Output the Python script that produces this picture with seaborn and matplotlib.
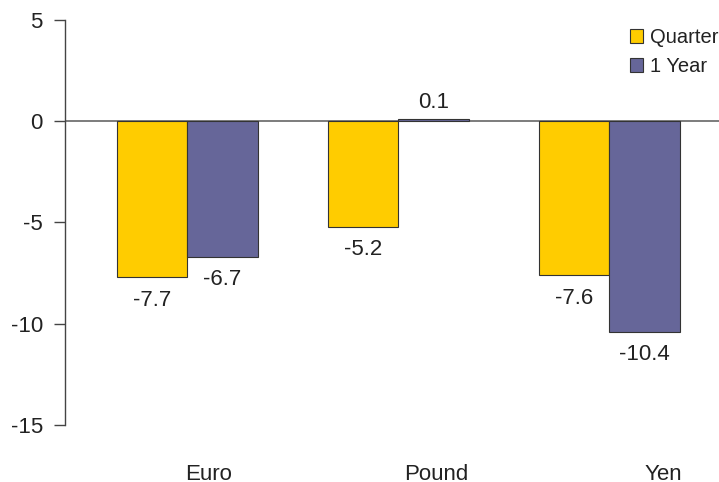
import matplotlib
matplotlib.use("Agg")
import matplotlib.pyplot as plt
import matplotlib.transforms as mtransforms
from matplotlib.container import BarContainer
import seaborn as sns
import pandas as pd

categories = ["Euro", "Pound", "Yen"]
series_names = ["Quarter", "1 Year"]
quarter = [-7.7, -5.2, -7.6]
one_year = [-6.7, 0.1, -10.4]
y_ticks = [5, 0, -5, -10, -15]
colors = ["#FFCC00", "#666699"]

df = pd.DataFrame({
    "Currency": categories * 2,
    "Series": [series_names[0]] * 3 + [series_names[1]] * 3,
    "Value": quarter + one_year,
})

sns.set_style("white")
plt.rcParams["font.family"] = ["Liberation Sans", "DejaVu Sans"]

fig = plt.figure(figsize=(7.19, 4.82), dpi=100)
ax = fig.add_axes([0.0904, 0.1183, 0.9096, 0.8402])

sns.barplot(data=df, x="Currency", y="Value", hue="Series", order=categories,
            hue_order=series_names, palette=colors, width=0.667, dodge=True,
            edgecolor="#333333", linewidth=0.8, saturation=1, ax=ax, errorbar=None)

ax.axhline(0, color="#666666", lw=1.2, zorder=0.5)
ax.set_ylim(-15, 5)
ax.set_xlim(-0.58, 2.52)
ax.set_yticks(y_ticks)
ax.set_yticklabels([str(t) for t in y_ticks], fontsize=16)
ax.tick_params(axis="y", direction="out", length=8, width=1, color="#444444", pad=8, left=True)
ax.tick_params(axis="x", length=0, pad=28, labelsize=16)
ax.set_xlabel("")
ax.set_ylabel("")
for s in ["top", "right", "bottom"]:
    ax.spines[s].set_visible(False)
ax.spines["left"].set_color("#444444")
ax.spines["left"].set_linewidth(1)
for lab in ax.get_yticklabels() + ax.get_xticklabels():
    lab.set_color("#222222")

# category label offsets as in reference
offsets = [0.21, 0.38, 0.54]
for lab, off in zip(ax.get_xticklabels(), offsets):
    lab.set_transform(lab.get_transform() + mtransforms.ScaledTranslation(off, 0, fig.dpi_scale_trans))

for cont in list(ax.containers):
    for patch, v in zip(cont.patches, cont.datavalues):
        single = BarContainer([patch], datavalues=[v], orientation="vertical")
        ax.bar_label(single, labels=[f"{v:.1f}"], padding=9 if v < 0 else 4.5,
                     fontsize=16, color="#222222")

leg = ax.legend(loc="upper right", bbox_to_anchor=(1.012, 1.0), fontsize=14.5, frameon=False,
                handlelength=0.65, handleheight=0.65, handletextpad=0.35, labelspacing=0.5,
                borderaxespad=0.0)
for t in leg.get_texts():
    t.set_color("#222222")

fig.savefig("out.png", dpi=100)
